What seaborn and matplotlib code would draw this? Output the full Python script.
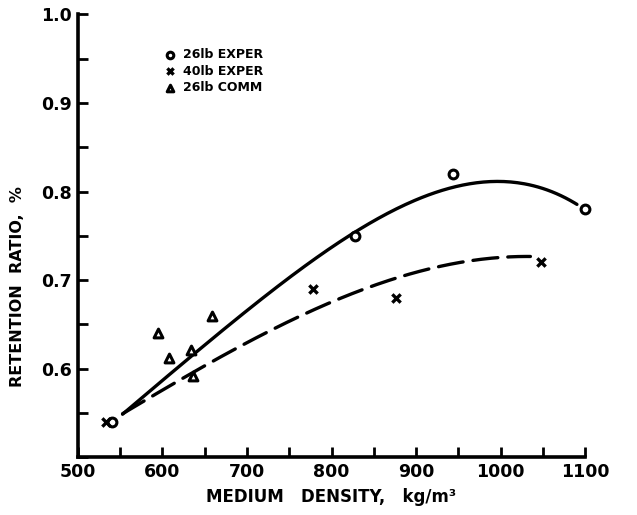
import numpy as np
import pandas as pd
import matplotlib
matplotlib.use("Agg")
import matplotlib.pyplot as plt
import seaborn as sns
from matplotlib.ticker import MultipleLocator

# Measured retention ratios
exper26_density = [540, 828, 944, 1100]
exper26_ratio = [0.54, 0.75, 0.82, 0.78]

exper40_density = [533, 778, 876, 1048]
exper40_ratio = [0.54, 0.69, 0.68, 0.72]

comm26_density = [595, 608, 634, 636, 659]
comm26_ratio = [0.64, 0.612, 0.621, 0.592, 0.66]

# Trend curves traced through the data
trend26_density = [553, 633, 719, 786, 857, 917, 956, 1007, 1047, 1090]
trend26_ratio = [0.548, 0.615, 0.68, 0.725, 0.77, 0.80, 0.81, 0.81, 0.80, 0.788]

trend40_density = [553, 597, 644, 672, 735, 786, 854, 905, 949, 988, 1035]
trend40_ratio = [0.548, 0.575, 0.601, 0.616, 0.646, 0.668, 0.694, 0.711, 0.72, 0.727, 0.725]

x_ticks = [500, 600, 700, 800, 900, 1000, 1100]
y_ticks = [0.6, 0.7, 0.8, 0.9, 1.0]
y_tick_labels = ["0.6", "0.7", "0.8", "0.9", "1.0"]

sns.set_style("ticks")
plt.rcParams["font.family"] = ["DejaVu Sans"]
plt.rcParams["font.weight"] = "bold"
plt.rcParams["text.color"] = "black"
plt.rcParams["axes.labelcolor"] = "black"

fig = plt.figure(figsize=(6.37, 5.15), dpi=100)
ax = fig.add_axes([0.122, 0.112, 0.797, 0.860])


def smooth(xs, ys, deg=3, n=200):
    coef = np.polyfit(xs, ys, deg)
    xx = np.linspace(min(xs), max(xs), n)
    return pd.DataFrame({"x": xx, "y": np.polyval(coef, xx)})


solid = smooth(trend26_density, trend26_ratio, deg=4)
dashed = smooth(trend40_density, trend40_ratio, deg=3)

sns.lineplot(data=solid, x="x", y="y", ax=ax, color="black", lw=2.4,
             solid_capstyle="round", sort=False)
sns.lineplot(data=dashed, x="x", y="y", ax=ax, color="black", lw=2.4,
             linestyle=(0, (7.5, 3)), dash_capstyle="round", sort=False)

pts = pd.concat([
    pd.DataFrame({"x": exper26_density, "y": exper26_ratio, "grp": "26lb EXPER"}),
    pd.DataFrame({"x": exper40_density, "y": exper40_ratio, "grp": "40lb EXPER"}),
    pd.DataFrame({"x": comm26_density, "y": comm26_ratio, "grp": "26lb COMM"}),
])

sns.scatterplot(data=pts[pts.grp == "26lb EXPER"], x="x", y="y", ax=ax,
                marker="o", s=40, facecolor="white", edgecolor="black",
                linewidth=2.2, clip_on=False, zorder=5, label="26lb EXPER")
sns.scatterplot(data=pts[pts.grp == "40lb EXPER"], x="x", y="y", ax=ax,
                marker="x", s=36, color="black", linewidth=2.4,
                clip_on=False, zorder=5, label="40lb EXPER")
sns.scatterplot(data=pts[pts.grp == "26lb COMM"], x="x", y="y", ax=ax,
                marker="^", s=40, facecolor="white", edgecolor="black",
                linewidth=2.2, clip_on=False, zorder=5, label="26lb COMM")

ax.set_xlim(500, 1100)
ax.set_ylim(0.5, 1.0)
ax.set_xticks(x_ticks)
ax.set_xticklabels([str(v) for v in x_ticks])
ax.set_yticks(y_ticks)
ax.set_yticklabels(y_tick_labels)
ax.xaxis.set_minor_locator(MultipleLocator(50))
ax.yaxis.set_minor_locator(MultipleLocator(0.05))

ax.tick_params(which="both", direction="in", width=2, length=7, colors="black")
ax.tick_params(axis="both", which="major", labelsize=12.5, pad=4)
for lab in ax.get_xticklabels() + ax.get_yticklabels():
    lab.set_fontweight("bold")

sns.despine(ax=ax)
for sp in ("left", "bottom"):
    ax.spines[sp].set_linewidth(2.6)
    ax.spines[sp].set_color("black")

ax.set_xlabel("MEDIUM   DENSITY,   kg/m³", fontsize=12, fontweight="bold", labelpad=5)
ax.set_ylabel("RETENTION  RATIO,  %", fontsize=11.5, fontweight="bold")
ax.yaxis.set_label_coords(-0.103, 0.385)

leg = ax.legend(loc="upper left", bbox_to_anchor=(0.145, 0.95), frameon=False,
                handletextpad=0.4, labelspacing=0.3, markerscale=0.75,
                handlelength=1.2, prop={"weight": "bold", "size": 9})

fig.savefig("out.png", dpi=100, facecolor="white")
